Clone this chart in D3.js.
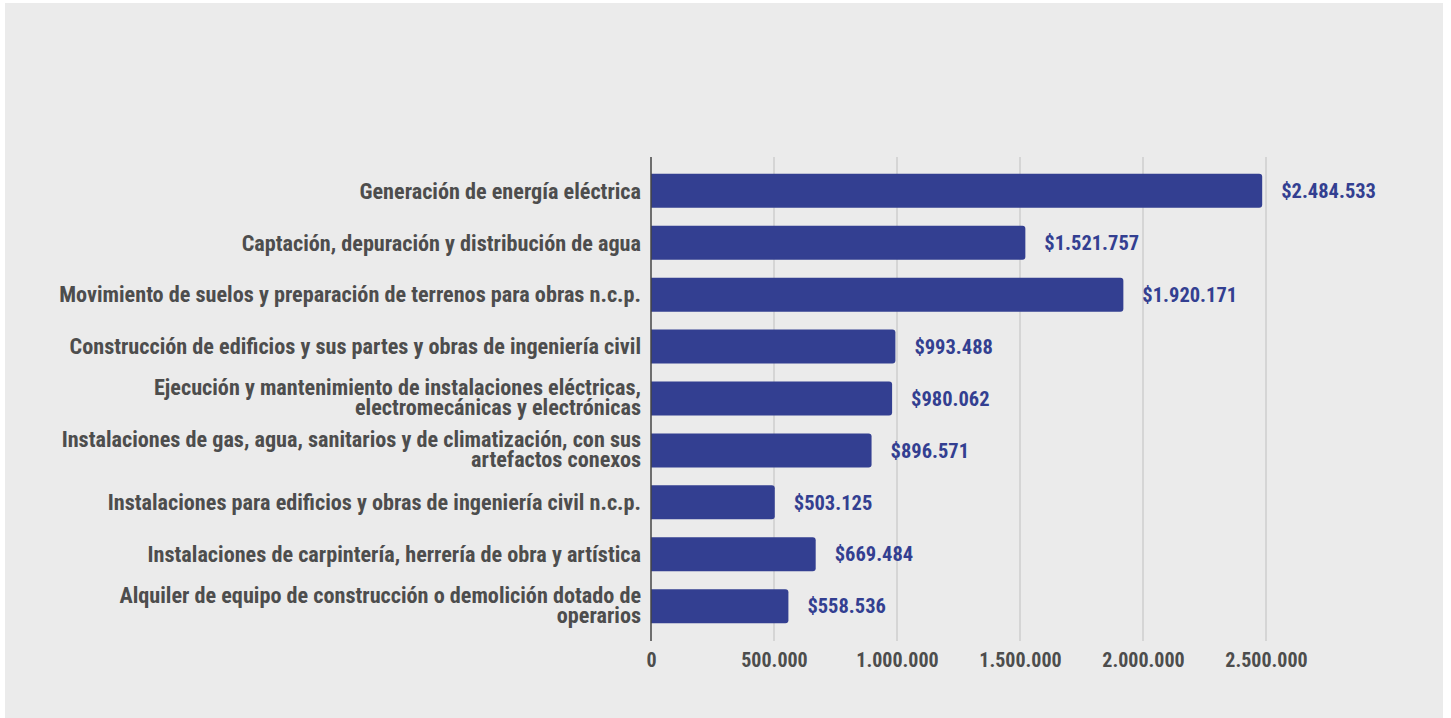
<!DOCTYPE html>
<html>
<head>
<meta charset="utf-8">
<script src="https://cdn.jsdelivr.net/npm/d3@7"></script>
<style>
  html, body { margin: 0; padding: 0; background: #ffffff; }
  svg { display: block; }
  text { font-family: "Liberation Sans Narrow", "Roboto Condensed", "Roboto", sans-serif; font-weight: bold; }
</style>
</head>
<body>
<svg id="chart" width="1451" height="718"></svg>
<script>
const categories = [
  ["Generación de energía eléctrica"],
  ["Captación, depuración y distribución de agua"],
  ["Movimiento de suelos y preparación de terrenos para obras n.c.p."],
  ["Construcción de edificios y sus partes y obras de ingeniería civil"],
  ["Ejecución y mantenimiento de instalaciones eléctricas,", "electromecánicas y electrónicas"],
  ["Instalaciones de gas, agua, sanitarios y de climatización, con sus", "artefactos conexos"],
  ["Instalaciones para edificios y obras de ingeniería civil n.c.p."],
  ["Instalaciones de carpintería, herrería de obra y artística"],
  ["Alquiler de equipo de construcción o demolición dotado de", "operarios"]
];
const values = [2484533, 1521757, 1920171, 993488, 980062, 896571, 503125, 669484, 558536];
const valueLabels = ["$2.484.533", "$1.521.757", "$1.920.171", "$993.488", "$980.062", "$896.571", "$503.125", "$669.484", "$558.536"];
const tickValues = [0, 500000, 1000000, 1500000, 2000000, 2500000];
const tickLabels = ["0", "500.000", "1.000.000", "1.500.000", "2.000.000", "2.500.000"];

const svg = d3.select("#chart");
svg.append("rect").attr("x", 5).attr("y", 3).attr("width", 1438).attr("height", 715).attr("fill", "#ebebeb");

const x = d3.scaleLinear().domain([0, 2500000]).range([651, 1266]);
const idx = d3.range(values.length);
const y = d3.scaleBand().domain(idx).range([165, 632]).paddingInner(0.345).paddingOuter(0.17);

const plotTop = 157, plotBottom = 641;

// gridlines
svg.append("g").selectAll("line").data(tickValues.slice(1)).join("line")
  .attr("x1", d => x(d)).attr("x2", d => x(d))
  .attr("y1", plotTop).attr("y2", plotBottom)
  .attr("stroke", "#c6c6c6").attr("stroke-width", 1.2);

// x axis tick labels via d3 axis
const xAxis = d3.axisBottom(x).tickValues(tickValues).tickFormat((d, i) => tickLabels[i]).tickSize(0).tickPadding(0);
const gx = svg.append("g").attr("transform", `translate(0, ${plotBottom + 12})`).call(xAxis);
gx.select(".domain").remove();
gx.selectAll("text").attr("fill", "#4d4d4d").attr("font-size", 20).attr("dy", "0.71em")
  .style("font-family", '"Liberation Sans Narrow", "Roboto Condensed", Roboto, sans-serif').style("font-weight", "bold");

// bars
svg.append("g").selectAll("path").data(idx).join("path")
  .attr("d", i => {
    const x0 = x(0), x1 = x(values[i]), y0 = y(i), h = y.bandwidth(), r = 3;
    return `M${x0},${y0} H${x1 - r} Q${x1},${y0} ${x1},${y0 + r} V${y0 + h - r} Q${x1},${y0 + h} ${x1 - r},${y0 + h} H${x0} Z`;
  })
  .attr("fill", "#333f91");

// y axis line
svg.append("line").attr("x1", x(0)).attr("x2", x(0)).attr("y1", plotTop).attr("y2", plotBottom)
  .attr("stroke", "#444444").attr("stroke-width", 1.5);

// value labels
svg.append("g").selectAll("text").data(idx).join("text")
  .attr("x", i => x(values[i]) + 19)
  .attr("y", i => y(i) + y.bandwidth() / 2)
  .attr("dy", "0.35em")
  .attr("font-size", 20.5)
  .attr("fill", "#333f91")
  .text(i => valueLabels[i]);

// category labels (one text element per line)
const lineData = [];
idx.forEach(i => {
  const lines = categories[i];
  const cy = y(i) + y.bandwidth() / 2;
  const lh = 20.5;
  const start = cy - (lines.length - 1) * lh / 2;
  lines.forEach((t, k) => lineData.push({ t, yy: start + k * lh, multi: lines.length > 1 }));
});
svg.append("g").selectAll("text").data(lineData).join("text")
  .attr("text-anchor", "end")
  .attr("x", 641)
  .attr("y", d => d.yy)
  .attr("dy", d => d.multi ? "0.3em" : "0.35em")
  .attr("font-size", 22.2)
  .attr("fill", "#4d4d4d")
  .text(d => d.t);
</script>
</body>
</html>
